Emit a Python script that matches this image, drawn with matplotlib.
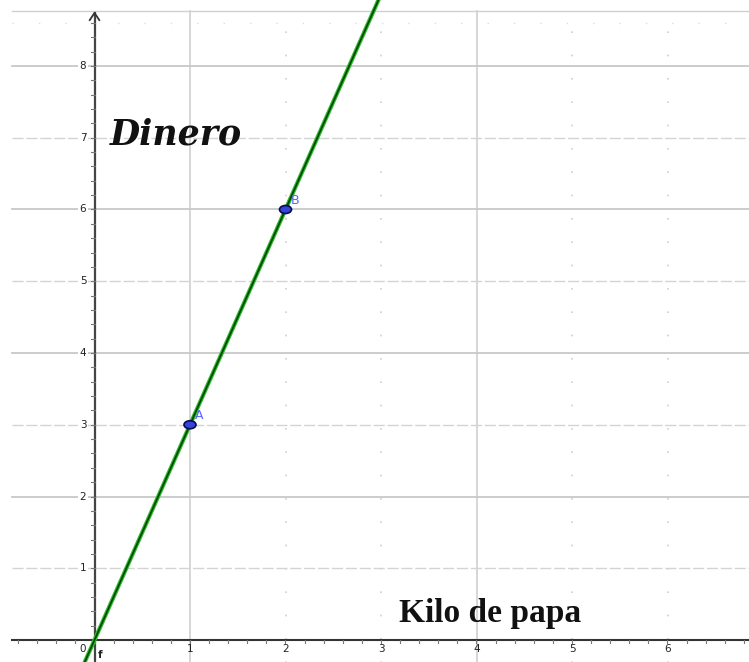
import numpy as np
import matplotlib
matplotlib.use("Agg")
import matplotlib.pyplot as plt
from matplotlib.patches import Ellipse

# data: line f(x) = 3x through A and B
pt_names = ["A", "B"]
pt_x = [1, 2]
pt_y = [3, 6]
slope = 3
line_x = [-0.15, 3.0]

x_ticks = [0, 1, 2, 3, 4, 5, 6]
y_ticks = [1, 2, 3, 4, 5, 6, 7, 8]
solid_x = [1, 4]
solid_y = [2, 4, 6, 8]

fig = plt.figure(figsize=(7.49, 6.62), dpi=100)
ax = fig.add_axes([0, 0, 1, 1])
ax.set_xlim(-94.5 / 95.5, (749 - 94.5) / 95.5)
ax.set_ylim(-22 / 71.75, 640 / 71.75)
ax.axis("off")

left = -82.5 / 95.5   # white margin on the left
top = 629 / 71.75     # frame line at the top
right = 7.0
bottom = -0.5

# grid
for x in x_ticks[1:]:
    if x in solid_x:
        ax.plot([x, x], [bottom, top], color="#d0d0d0", lw=1.2, zorder=1)
    else:
        ax.plot([x, x], [bottom, top], color="#cfcfcf", lw=1.2,
                ls=(0, (1, 13)), zorder=1)
for y in y_ticks:
    if y in solid_y:
        ax.plot([left, right], [y, y], color="#c8c8c8", lw=1.3, zorder=1)
    else:
        ax.plot([left, right], [y, y], color="#d4d4d4", lw=1.0,
                ls=(0, (8, 2)), zorder=1)
ax.plot([left, right], [8.6, 8.6], color="#dcdcdc", lw=1.0,
        ls=(0, (1, 18)), zorder=1)
ax.plot([left, right], [top, top], color="#d0d0d0", lw=1.0, zorder=1)

# axes
ax.plot([left, right], [0, 0], color="#333333", lw=1.5, zorder=3)
ax.plot([0, 0], [bottom, 8.74], color="#444444", lw=1.6, zorder=3)
ax.plot([-0.05, 0, 0.05], [8.64, 8.74, 8.64], color="#333333", lw=1.3, zorder=3)

for m in np.arange(-0.8, 6.9, 0.2):
    ax.plot([m, m], [0, -0.035], color="#777777", lw=0.8, zorder=3)
for m in np.arange(0.2, 8.7, 0.2):
    ax.plot([-0.04, 0], [m, m], color="#777777", lw=0.8, zorder=3)

# tick labels
for x in x_ticks:
    ax.text(x - (0.12 if x == 0 else 0), -0.13, str(x), ha="center", va="center",
            fontsize=7.5, color="#222222", zorder=4)
for y in y_ticks:
    ax.text(-0.12, y, str(y), ha="center", va="center", fontsize=7.5,
            color="#222222", zorder=4,
            bbox=dict(facecolor="white", edgecolor="none", pad=1))

# line f
lx = np.array(line_x)
ax.plot(lx, slope * lx, color="#33bb33", lw=3.0, zorder=5, solid_capstyle="butt")
ax.plot(lx, slope * lx, color="#004d00", lw=1.3, zorder=6, solid_capstyle="butt")
ax.text(0.03, -0.25, "f", fontsize=7.5, fontweight="bold", color="#222222", zorder=4)

# points
for name, px, py in zip(pt_names, pt_x, pt_y):
    ax.add_patch(Ellipse((px, py), 12 / 95.5, 8 / 71.75, facecolor="#3344dd",
                         edgecolor="#0a0a50", lw=1.2, zorder=7))
    ax.text(px + 0.05, py + 0.08, name, fontsize=9, color="#5566ff", zorder=7)

# labels
ax.text(0.16, 7.05, "Dinero", fontsize=25, fontstyle="italic", fontweight="bold",
        family="DejaVu Serif", color="#111111", va="center", zorder=4)
ax.text(3.19, 0.37, "Kilo de papa", fontsize=24, fontweight="bold",
        family="Liberation Serif", color="#111111", va="center", zorder=4)

fig.savefig("out.png", dpi=100)
